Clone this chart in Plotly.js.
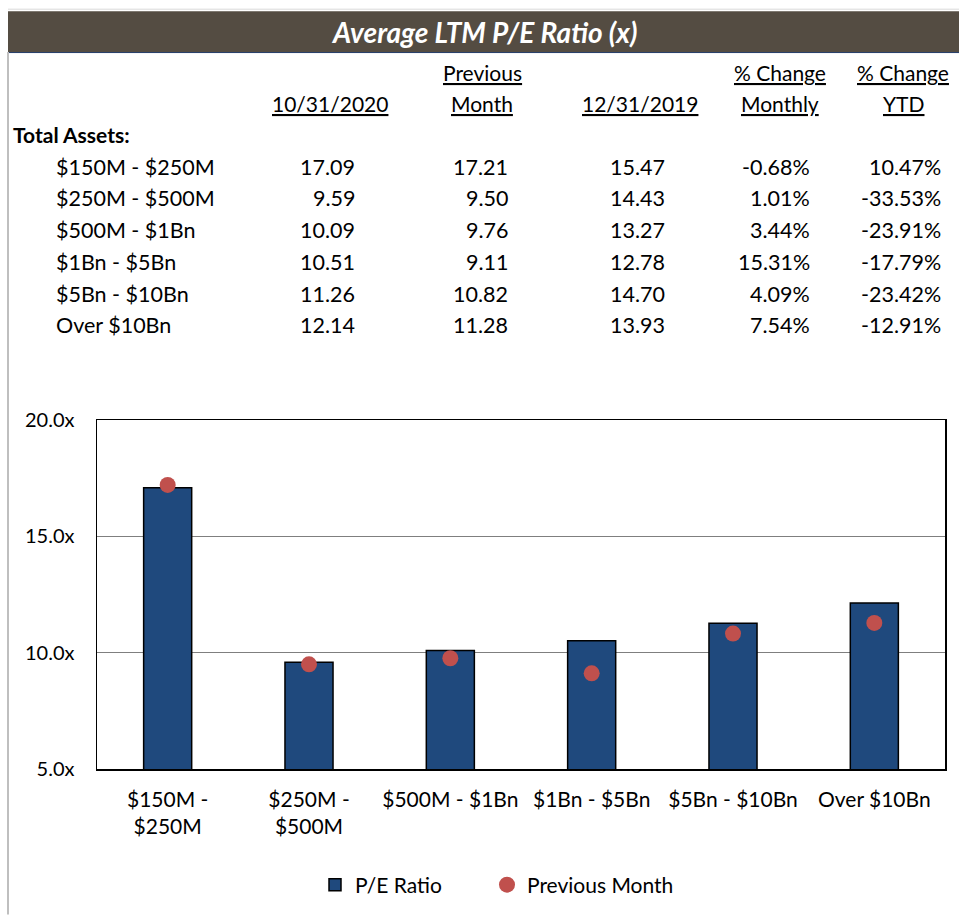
<!DOCTYPE html>
<html>
<head>
<meta charset="utf-8">
<script src="https://cdn.plot.ly/plotly-3.0.1.min.js"></script>
<style>html,body{margin:0;padding:0;background:#fff;}#chart{width:959px;height:916px;}</style>
</head>
<body>
<div id="chart"></div>
<script>
// ---- Data ----
const chartTitle = "Average LTM P/E Ratio (x)";
const rowGroupLabel = "Total Assets:";
const rowLabels = ["$150M - $250M", "$250M - $500M", "$500M - $1Bn", "$1Bn - $5Bn", "$5Bn - $10Bn", "Over $10Bn"];
const axisCategories = ["$150M -<br>$250M", "$250M -<br>$500M", "$500M - $1Bn", "$1Bn - $5Bn", "$5Bn - $10Bn", "Over $10Bn"];
const colHeaders = [["", "10/31/2020"], ["Previous", "Month"], ["", "12/31/2019"], ["% Change", "Monthly"], ["% Change", "YTD"]];
const peCurrent = [17.09, 9.59, 10.09, 10.51, 11.26, 12.14];
const pePrevMonth = [17.21, 9.50, 9.76, 9.11, 10.82, 11.28];
const pe2019 = [15.47, 14.43, 13.27, 12.78, 14.70, 13.93];
const pctMonthly = ["-0.68%", "1.01%", "3.44%", "15.31%", "4.09%", "7.54%"];
const pctYTD = ["10.47%", "-33.53%", "-23.91%", "-17.79%", "-23.42%", "-12.91%"];
const seriesNames = ["P/E Ratio", "Previous Month"];
const yTickVals = [5, 10, 15, 20];
const yTickText = yTickVals.map(v => v.toFixed(1) + "x");

// ---- Layout helpers (pixel -> paper) ----
const W = 959, H = 916;
const PL = 97, PR = 945, PT = 420, PB = 770;
const px = x => (x - PL) / (PR - PL);
const py = y => (PB - y) / (PB - PT);

const calibri = "Lato, 'Open Sans', sans-serif";
const txt = "#000000";

const annotations = [];
annotations.push({xref:'paper', yref:'paper', x:px(484), y:py(31), xanchor:'center', yanchor:'middle',
  text:'<b><i>'+chartTitle+'</i></b>', showarrow:false, font:{family:calibri, size:28, color:'#ffffff'}});
const colCenters = [330, 482, 640, 780, 903];
colHeaders.forEach((h, i) => {
  if (h[0]) annotations.push({xref:'paper', yref:'paper', x:px(colCenters[i]), y:py(72), xanchor:'center', yanchor:'middle',
    text:'<u>'+h[0]+'</u>', showarrow:false, font:{family:calibri, size:21, color:txt}});
  annotations.push({xref:'paper', yref:'paper', x:px(colCenters[i]), y:py(103), xanchor:'center', yanchor:'middle',
    text:'<u>'+h[1]+'</u>', showarrow:false, font:{family:calibri, size:21, color:txt}});
});
annotations.push({xref:'paper', yref:'paper', x:px(11), y:py(134), xanchor:'left', yanchor:'middle',
  text:'<b>'+rowGroupLabel+'</b>', showarrow:false, font:{family:calibri, size:21, color:txt}});
const colRight = [357, 510, 667, 812, 943];
rowLabels.forEach((lab, r) => {
  const yy = py(166 + 31.8 * r);
  annotations.push({xref:'paper', yref:'paper', x:px(54), y:yy, xanchor:'left', yanchor:'middle',
    text:lab, showarrow:false, font:{family:calibri, size:21.5, color:txt}});
  const vals = [peCurrent[r].toFixed(2), pePrevMonth[r].toFixed(2), pe2019[r].toFixed(2), pctMonthly[r], pctYTD[r]];
  vals.forEach((v, c) => {
    annotations.push({xref:'paper', yref:'paper', x:px(colRight[c]), y:yy, xanchor:'right', yanchor:'middle',
      text:v, showarrow:false, font:{family:calibri, size:21.5, color:txt}});
  });
});

const shapes = [
  {type:'rect', xref:'paper', yref:'paper', x0:px(8), x1:px(959), y0:py(10), y1:py(51), fillcolor:'#544c42', line:{width:0}, layer:'below'},
  {type:'line', xref:'paper', yref:'paper', x0:px(8), x1:px(959), y0:py(51.5), y1:py(51.5), line:{color:'#1f3864', width:1}},
  {type:'line', xref:'paper', yref:'paper', x0:px(8), x1:px(8), y0:py(51), y1:py(916), line:{color:'#bfbfbf', width:2}},
  {type:'line', xref:'paper', yref:'paper', x0:px(8), x1:px(959), y0:py(8), y1:py(8), line:{color:'#d9d9d9', width:1}}
];

const traces = [
  {type:'bar', name:seriesNames[0], x:axisCategories, y:peCurrent, width:0.34, legend:'legend',
   marker:{color:'#1f497d', line:{color:'#000000', width:1.5}}},
  {type:'scatter', mode:'markers', name:seriesNames[1], x:axisCategories, y:pePrevMonth, legend:'legend2',
   marker:{color:'#c0504d', size:16}}
];

const legendBase = {orientation:'h', xanchor:'left', y:py(885), yanchor:'middle',
  font:{family:calibri, size:21, color:txt}, bgcolor:'rgba(0,0,0,0)'};

const layout = {
  width:W, height:H,
  margin:{l:PL, r:W-PR, t:PT, b:H-PB, pad:0},
  paper_bgcolor:'#ffffff', plot_bgcolor:'#ffffff',
  showlegend:true,
  legend:Object.assign({}, legendBase, {x:px(315)}),
  legend2:Object.assign({}, legendBase, {x:px(487)}),
  xaxis:{type:'category', tickfont:{family:calibri, size:21, color:txt}, showgrid:false,
    showline:true, mirror:true, linecolor:'#000000', linewidth:1.5, ticks:'', ticklabelstandoff:11, fixedrange:true},
  yaxis:{range:[5,20], tickmode:'array', tickvals:yTickVals, ticktext:yTickText,
    tickfont:{family:calibri, size:20, color:txt}, showgrid:true, gridcolor:'#7f7f7f', gridwidth:1,
    showline:true, mirror:true, linecolor:'#000000', linewidth:1.5, ticks:'', ticklabelstandoff:17, zeroline:false, fixedrange:true},
  bargap:0.66,
  annotations:annotations,
  shapes:shapes
};

Plotly.newPlot('chart', traces, layout, {displayModeBar:false, staticPlot:true});
</script>
</body>
</html>
